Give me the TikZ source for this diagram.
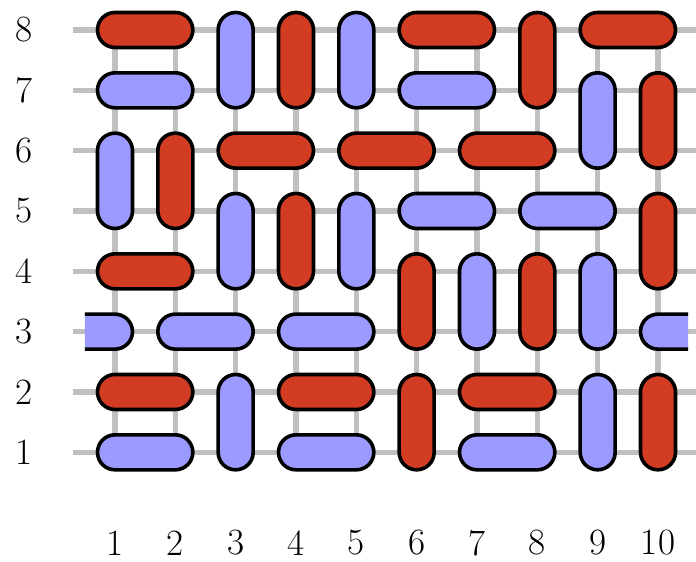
\documentclass[tikz,border=0pt]{standalone}
\usepackage{xcolor}
\usepackage{tikz}

\definecolor{domred}{RGB}{210,60,35}
\definecolor{domblue}{RGB}{155,155,255}
\definecolor{gridgray}{RGB}{192,192,192}

\begin{document}
\begin{tikzpicture}[
		gridline/.style={draw=gridgray, line width=2.4pt},
		domino/.style={draw=black, line width=1.7pt, rounded corners=0.29cm},
		lbl/.style={font=\fontsize{17.5}{21}\selectfont}
	]
	\useasboundingbox (-0.906,-0.802) rectangle (10.63,8.497);

	% grid
	\foreach \y in {1,...,8}
		\draw[gridline] (0.3,\y) -- (10.63,\y);
	\foreach \x in {1,...,10}
		\draw[gridline] (\x,1) -- (\x,8);

	% horizontal dominoes: left cell / row / colour
	\foreach \x/\y/\c in {1/8/domred, 6/8/domred, 9/8/domred, 1/7/domblue, 6/7/domblue,
			3/6/domred, 5/6/domred, 7/6/domred, 6/5/domblue, 8/5/domblue, 1/4/domred,
			2/3/domblue, 4/3/domblue, 1/2/domred, 4/2/domred, 7/2/domred,
			1/1/domblue, 4/1/domblue, 7/1/domblue}
		\draw[domino, fill=\c] (\x-0.29,\y-0.29) rectangle (\x+1.29,\y+0.29);

	% vertical dominoes: column / lower cell / colour
	\foreach \x/\y/\c in {3/7/domblue, 4/7/domred, 5/7/domblue, 8/7/domred, 9/6/domblue,
			10/6/domred, 1/5/domblue, 2/5/domred, 3/4/domblue, 4/4/domred, 5/4/domblue,
			10/4/domred, 6/3/domred, 7/3/domblue, 8/3/domred, 9/3/domblue,
			3/1/domblue, 6/1/domred, 9/1/domblue, 10/1/domred}
		\draw[domino, fill=\c] (\x-0.29,\y-0.29) rectangle (\x+0.29,\y+1.29);

	% halves that wrap round in row 3
	\begin{scope}
		\clip (0.5,2) rectangle (10.5,4);
		\draw[domino, fill=domblue] (-0.29,2.71) rectangle (1.29,3.29);
		\draw[domino, fill=domblue] (9.71,2.71) rectangle (11.29,3.29);
	\end{scope}

	% labels
	\foreach \y in {1,...,8}
		\node[lbl] (row\y) at (-0.5,\y) {\y};
	\foreach \x in {1,...,10}
		\node[lbl] (col\x) at (\x,-0.5) {\x};
\end{tikzpicture}
\end{document}
